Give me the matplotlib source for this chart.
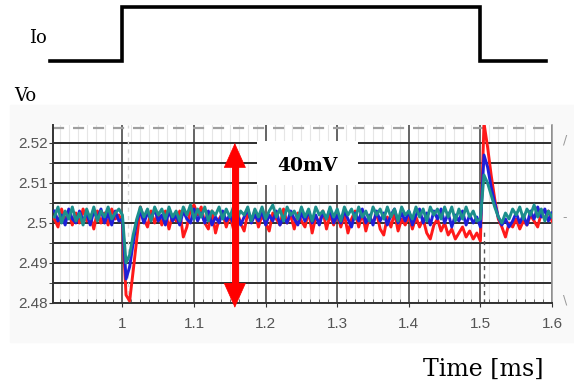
import numpy as np
import matplotlib.pyplot as plt
from matplotlib.patches import Rectangle

# sample times of the scope traces (ms)
t = np.round(np.arange(0.905, 1.6001, 0.005), 3)

vo_red = [
    2.5010, 2.4990, 2.5035, 2.5005, 2.5030, 2.4995, 2.5025, 2.5000, 2.5035, 2.5005,
    2.5020, 2.4985, 2.5030, 2.5000, 2.5025, 2.4995, 2.5035, 2.5010, 2.5020, 2.5000,
    2.4820, 2.4805, 2.4880, 2.4960, 2.5040, 2.5010, 2.4990, 2.5030, 2.5000, 2.5025,
    2.4995, 2.5030, 2.4985, 2.5020, 2.5005, 2.5030, 2.4965, 2.4990, 2.5035, 2.5045,
    2.5020, 2.5040, 2.5000, 2.4985, 2.5030, 2.4975, 2.5010, 2.5025, 2.4990, 2.5020,
    2.4985, 2.5030, 2.5000, 2.4980, 2.5025, 2.5005, 2.5030, 2.4990, 2.5020, 2.5000,
    2.4980, 2.5025, 2.5010, 2.4995, 2.5035, 2.5000, 2.5020, 2.4985, 2.5025, 2.5005,
    2.4990, 2.5030, 2.4975, 2.5015, 2.5000, 2.5030, 2.4985, 2.5020, 2.4995, 2.5025,
    2.4990, 2.5020, 2.4975, 2.5010, 2.5030, 2.4990, 2.5025, 2.4980, 2.5015, 2.5000,
    2.5025, 2.4985, 2.4970, 2.5015, 2.4990, 2.5025, 2.4980, 2.5010, 2.4995, 2.5020,
    2.4985, 2.5015, 2.4990, 2.5010, 2.4975, 2.4960, 2.4995, 2.5010, 2.4980, 2.5000,
    2.4970, 2.4985, 2.4960, 2.4975, 2.4990, 2.4965, 2.4980, 2.4960, 2.4975, 2.4955,
    2.5250, 2.5190, 2.5120, 2.5060, 2.5010, 2.4990, 2.4965, 2.5000, 2.4990, 2.5010,
    2.4985, 2.5005, 2.4995, 2.5020, 2.5005, 2.4990, 2.5025, 2.5010, 2.5030, 2.5005,
]
vo_blue = [
    2.5030, 2.5005, 2.5020, 2.4995, 2.5035, 2.5010, 2.5000, 2.5030, 2.5005, 2.5025,
    2.4995, 2.5030, 2.5010, 2.5035, 2.5000, 2.5025, 2.4995, 2.5030, 2.5005, 2.5010,
    2.4860, 2.4890, 2.4950, 2.5005, 2.5030, 2.5000, 2.5025, 2.5010, 2.5035, 2.5005,
    2.5020, 2.4995, 2.5030, 2.5005, 2.5020, 2.4995, 2.5030, 2.5010, 2.5000, 2.5035,
    2.5005, 2.5025, 2.5000, 2.5030, 2.4995, 2.5015, 2.5000, 2.5030, 2.5005, 2.5020,
    2.5000, 2.5025, 2.4995, 2.5015, 2.5035, 2.5000, 2.5020, 2.5005, 2.5030, 2.4995,
    2.5020, 2.5005, 2.5030, 2.4995, 2.5015, 2.5000, 2.5030, 2.5010, 2.4995, 2.5025,
    2.5005, 2.5030, 2.5000, 2.5020, 2.4995, 2.5025, 2.5010, 2.5035, 2.5000, 2.5020,
    2.5000, 2.5030, 2.5010, 2.4990, 2.5025, 2.5005, 2.5035, 2.5000, 2.5020, 2.4995,
    2.5030, 2.5005, 2.5025, 2.4995, 2.5020, 2.5035, 2.5000, 2.5025, 2.5005, 2.5030,
    2.4995, 2.5020, 2.5035, 2.5000, 2.5025, 2.4995, 2.5030, 2.5010, 2.5035, 2.5000,
    2.5025, 2.4990, 2.5020, 2.5005, 2.5030, 2.4995, 2.5020, 2.5000, 2.5015, 2.4990,
    2.5170, 2.5140, 2.5090, 2.5050, 2.5015, 2.4995, 2.5010, 2.4990, 2.5005, 2.5025,
    2.5000, 2.5020, 2.4995, 2.5030, 2.5010, 2.5040, 2.5015, 2.5035, 2.5005, 2.5025,
]
vo_teal = [
    2.5015, 2.5040, 2.5000, 2.5030, 2.5010, 2.5040, 2.5005, 2.5025, 2.4995, 2.5035,
    2.5010, 2.5040, 2.5005, 2.5030, 2.5015, 2.5040, 2.5010, 2.5025, 2.5035, 2.5020,
    2.4900, 2.4920, 2.4970, 2.5010, 2.5040, 2.5015, 2.5035, 2.5005, 2.5040, 2.5020,
    2.5035, 2.5010, 2.5040, 2.5015, 2.5030, 2.5005, 2.5040, 2.5020, 2.5045, 2.5010,
    2.5035, 2.5015, 2.5040, 2.5005, 2.5030, 2.5020, 2.5040, 2.5010, 2.5035, 2.5015,
    2.5040, 2.5010, 2.5030, 2.5020, 2.5040, 2.5005, 2.5035, 2.5015, 2.5040, 2.5010,
    2.5030, 2.5045, 2.5015, 2.5035, 2.5005, 2.5040, 2.5020, 2.5030, 2.5010, 2.5040,
    2.5015, 2.5035, 2.5005, 2.5040, 2.5020, 2.5030, 2.5010, 2.5040, 2.5015, 2.5035,
    2.5005, 2.5040, 2.5020, 2.5035, 2.5010, 2.5040, 2.5015, 2.5030, 2.5005, 2.5040,
    2.5020, 2.5035, 2.5010, 2.5040, 2.5015, 2.5035, 2.5005, 2.5040, 2.5020, 2.5030,
    2.5010, 2.5040, 2.5015, 2.5035, 2.5005, 2.5040, 2.5020, 2.5035, 2.5010, 2.5040,
    2.5015, 2.5040, 2.5005, 2.5035, 2.5010, 2.5040, 2.5015, 2.5030, 2.5005, 2.5010,
    2.5120, 2.5100, 2.5070, 2.5040, 2.5015, 2.5000, 2.5025, 2.5010, 2.5035, 2.5020,
    2.5040, 2.5010, 2.5035, 2.5020, 2.5045, 2.5015, 2.5035, 2.5005, 2.5030, 2.5015,
]

# load current step (normalised level)
io_time = [0.899, 1.0, 1.0, 1.5, 1.5, 1.592]
io_level = [0, 0, 1, 1, 0, 0]

x_ticks = [1.0, 1.1, 1.2, 1.3, 1.4, 1.5, 1.6]
x_labels = ["1", "1.1", "1.2", "1.3", "1.4", "1.5", "1.6"]
y_ticks = [2.48, 2.49, 2.50, 2.51, 2.52]
y_labels = ["2.48", "2.49", "2.5", "2.51", "2.52"]

W, H = 574, 386
fig = plt.figure(figsize=(W / 100, H / 100), dpi=100)
fig.patch.set_facecolor("white")

# faint scope-screenshot background
fig.patches.append(Rectangle((10 / W, 1 - 342 / H), 564 / W, 237 / H,
                             transform=fig.transFigure, color="#f9f9f9", zorder=-1))

left, right, top, bottom = 53, 552, 125, 303
ax = fig.add_axes([left / W, 1 - bottom / H, (right - left) / W, (bottom - top) / H])
ax.set_xlim(0.903, 1.6)
ax.set_ylim(2.48, 2.5245)

# grid
ax.set_xticks(x_ticks)
ax.set_xticklabels(x_labels)
ax.set_xticks(np.arange(0.9125, 1.6, 0.0125), minor=True)
ax.set_yticks(y_ticks)
ax.set_yticklabels(y_labels)
ax.set_yticks(np.arange(2.485, 2.52, 0.01), minor=True)
ax.grid(which="major", axis="x", color="#3a3a3a", lw=1.1)
ax.grid(which="minor", axis="x", color="#e6e6e6", lw=0.8)
ax.grid(which="both", axis="y", color="#2e2e2e", lw=1.4)
ax.axhline(2.5238, color="#a0a0a0", lw=1.6, ls=(0, (5, 4)))
ax.axvline(1.008, color="#d8d8d8", lw=1.0, ls=(0, (3, 3)))
ax.plot([1.505, 1.505], [2.48, 2.4985], color="#555555", lw=1.0, ls=(0, (3, 3)))

ax.spines["top"].set_visible(False)
ax.spines["left"].set_color("#333333")
ax.spines["left"].set_linewidth(1.4)
ax.spines["bottom"].set_color("#333333")
ax.spines["bottom"].set_linewidth(1.4)
ax.spines["right"].set_color("#999999")
ax.spines["right"].set_linewidth(1.2)

tick_font = ["Liberation Sans", "DejaVu Sans"]
ax.tick_params(axis="both", which="major", length=3, color="#333333",
               labelcolor="#555555", labelsize=11)
ax.tick_params(axis="x", which="major", pad=7)
ax.tick_params(axis="y", which="major", pad=1)
ax.tick_params(axis="x", which="minor", length=3, direction="in", color="#555555")
ax.tick_params(axis="y", which="minor", length=3, color="#333333")
for lbl in ax.get_xticklabels() + ax.get_yticklabels():
    lbl.set_family(tick_font)

# traces
ax.plot(t, vo_red, color="#ff1a1a", lw=2.1, zorder=3)
ax.plot(t, vo_blue, color="#1f1fd8", lw=2.1, zorder=3)
ax.plot(t, vo_teal, color="#1c8f8c", lw=2.1, zorder=3)

# 40 mV marker: thick shaft plus sharp heads
arrow_x = 1.157
arrow_lo, arrow_hi = 2.4788, 2.5200
ax.plot([arrow_x, arrow_x], [arrow_lo + 0.004, arrow_hi - 0.004], color="red",
        lw=5, solid_capstyle="butt", clip_on=False, zorder=6)
ax.annotate("", xy=(arrow_x, arrow_hi), xytext=(arrow_x, arrow_lo),
            arrowprops=dict(arrowstyle="<|-|>,head_length=0.85,head_width=0.38",
                            color="red", lw=0.5, mutation_scale=20,
                            shrinkA=0, shrinkB=0),
            annotation_clip=False, zorder=6)
ax.add_patch(Rectangle((1.1875, 2.5095), 0.1415, 0.011, facecolor="white",
                       edgecolor="none", zorder=5))
ax.text(1.258, 2.5142, "40mV", ha="center", va="center", fontsize=13.5,
        fontweight="bold", family="DejaVu Serif", zorder=7)

# cursor marks at right edge
fig.text(565 / W, 1 - 140 / H, "/", color="#999999", fontsize=9, ha="center", va="center")
fig.text(565 / W, 1 - 218 / H, "-", color="#999999", fontsize=9, ha="center", va="center")
fig.text(565 / W, 1 - 300 / H, "\\", color="#999999", fontsize=9, ha="center", va="center")

# load-current step on top
ax_io = fig.add_axes([left / W, 1 - 64 / H, (right - left) / W, 60 / H])
ax_io.set_xlim(0.903, 1.6)
ax_io.set_ylim(-0.05, 1.05)
ax_io.plot(io_time, io_level, color="black", lw=2.6, solid_joinstyle="miter",
           clip_on=False)
ax_io.axis("off")

fig.text(38 / W, 1 - 38 / H, "Io", family="DejaVu Serif", fontsize=13,
         ha="center", va="center")
fig.text(25 / W, 1 - 96 / H, "Vo", family="DejaVu Serif", fontsize=13,
         ha="center", va="center")
fig.text(483 / W, 1 - 369 / H, "Time [ms]", family="DejaVu Serif", fontsize=17,
         ha="center", va="center")

fig.savefig("out.png", dpi=100)
